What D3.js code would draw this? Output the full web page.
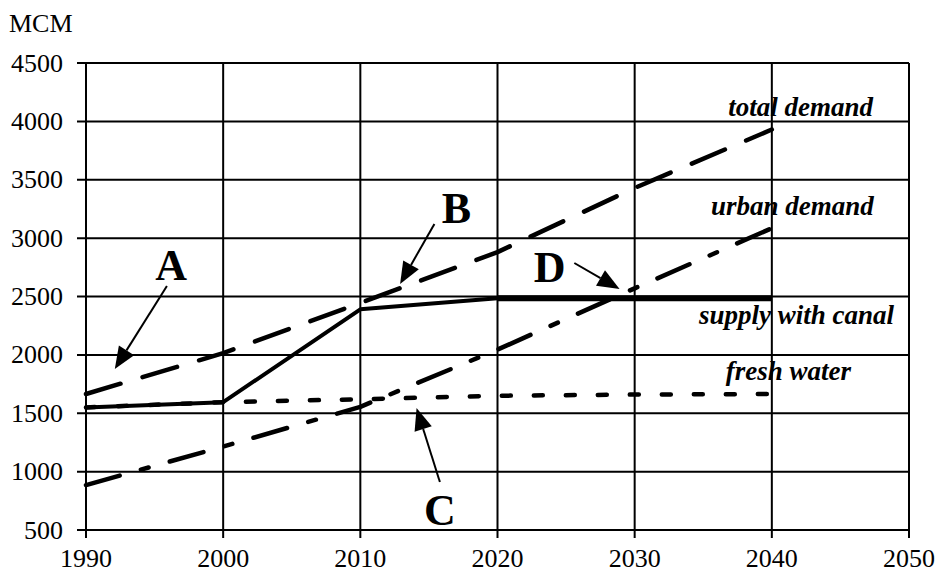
<!DOCTYPE html>
<html><head><meta charset="utf-8">
<script src="https://cdn.jsdelivr.net/npm/d3@7"></script>
<style>body{margin:0;background:#fff}svg{display:block}text{font-family:"Liberation Serif","Times New Roman",serif;fill:#000}</style>
</head><body><svg id="c" width="937" height="574"></svg>
<script>
const years = [1990, 2000, 2010, 2020, 2030, 2040];
const totalDemand = [1665, 2015, 2445, 2880, 3430, 3930];
const urbanDemand = [885, 1215, 1555, 2045, 2570, 3085];
const supplyWithCanal = [1550, 1595, 2390, 2485, 2485, 2485];
const freshWater = [1550, 1595, 1620, 1650, 1660, 1665];
const xTicks = [1990, 2000, 2010, 2020, 2030, 2040, 2050];
const yTicks = [500, 1000, 1500, 2000, 2500, 3000, 3500, 4000, 4500];
const seriesLabels = ["total demand", "urban demand", "supply with canal", "fresh water"];
const labelAnchors = [[2042.1, 4046], [2041.5, 3198], [2041.8, 2264], [2041.2, 1785]];
const letters = ["A", "B", "C", "D"];
const letterPos = [[1996.2, 2641], [2017.0, 3129], [2015.8, 543], [2023.8, 2624]];
const arrowFrom = [[1995.9, 2590], [2015.4, 3121], [2015.8, 911], [2025.6, 2787]];
const arrowTo = [[1992.1, 1879], [2012.9, 2607], [2014.1, 1545], [2028.9, 2564]];

const svg = d3.select("#c");
const x = d3.scaleLinear().domain([1990, 2050]).range([86, 909]);
const y = d3.scaleLinear().domain([500, 4500]).range([530, 63]);

// grid
svg.append("g").selectAll("line").data(xTicks).join("line")
  .attr("x1", d => x(d)).attr("x2", d => x(d)).attr("y1", y(4500)).attr("y2", y(500) + 8)
  .attr("stroke", "#000").attr("stroke-width", 2);
svg.append("g").selectAll("line").data(yTicks).join("line")
  .attr("x1", x(1990) - 9).attr("x2", x(2050)).attr("y1", d => y(d)).attr("y2", d => y(d))
  .attr("stroke", "#000").attr("stroke-width", 2);

// tick labels
svg.append("g").selectAll("text").data(yTicks).join("text")
  .attr("x", 63).attr("y", d => y(d)).attr("dy", "0.33em").attr("text-anchor", "end")
  .style("font-size", "26px").text(d => d);
svg.append("g").selectAll("text").data(xTicks).join("text")
  .attr("x", d => x(d)).attr("y", 567).attr("text-anchor", "middle")
  .style("font-size", "26px").text(d => d);
svg.append("text").attr("x", 9).attr("y", 32).style("font-size", "26px").text("MCM");

const line = d3.line().x((d, i) => x(years[i])).y(d => y(d));
function drawSeries(vals, width, dash) {
  svg.append("path").datum(vals).attr("d", line).attr("fill", "none")
    .attr("stroke", "#000").attr("stroke-width", width)
    .attr("stroke-linecap", dash ? "round" : "butt").attr("stroke-linejoin", "round")
    .attr("stroke-dasharray", dash || null);
}
drawSeries(freshWater, 4.5, "9,23");
drawSeries(urbanDemand, 4.5, "35,22,8,22");
drawSeries(totalDemand, 4.5, "36,23");
drawSeries(supplyWithCanal, 4, null);
// thicker flat canal segment
svg.append("path").datum(supplyWithCanal.slice(3))
  .attr("d", d3.line().x((d, i) => x(years[i + 3])).y(d => y(d)))
  .attr("fill", "none").attr("stroke", "#000").attr("stroke-width", 6);

// series labels
svg.append("g").selectAll("text").data(seriesLabels).join("text")
  .attr("x", (d, i) => x(labelAnchors[i][0])).attr("y", (d, i) => y(labelAnchors[i][1]))
  .attr("text-anchor", "middle").style("font-size", "27px").style("font-weight", "bold")
  .style("font-style", "italic").text(d => d);

// letters
svg.append("g").selectAll("text").data(letters).join("text")
  .attr("x", (d, i) => x(letterPos[i][0])).attr("y", (d, i) => y(letterPos[i][1]))
  .attr("text-anchor", "middle").style("font-size", "44px").style("font-weight", "bold").text(d => d);

// arrows
letters.forEach((l, i) => {
  const x1 = x(arrowFrom[i][0]), y1 = y(arrowFrom[i][1]);
  const x2 = x(arrowTo[i][0]), y2 = y(arrowTo[i][1]);
  const ang = Math.atan2(y2 - y1, x2 - x1);
  const L = 22, W = 9;
  const bx = x2 - L * Math.cos(ang), by = y2 - L * Math.sin(ang);
  svg.append("line").attr("x1", x1).attr("y1", y1).attr("x2", bx).attr("y2", by)
    .attr("stroke", "#000").attr("stroke-width", 2);
  const px = -Math.sin(ang) * W, py = Math.cos(ang) * W;
  svg.append("path").attr("d", `M${x2},${y2}L${bx + px},${by + py}L${bx - px},${by - py}Z`).attr("fill", "#000");
});
</script></body></html>
